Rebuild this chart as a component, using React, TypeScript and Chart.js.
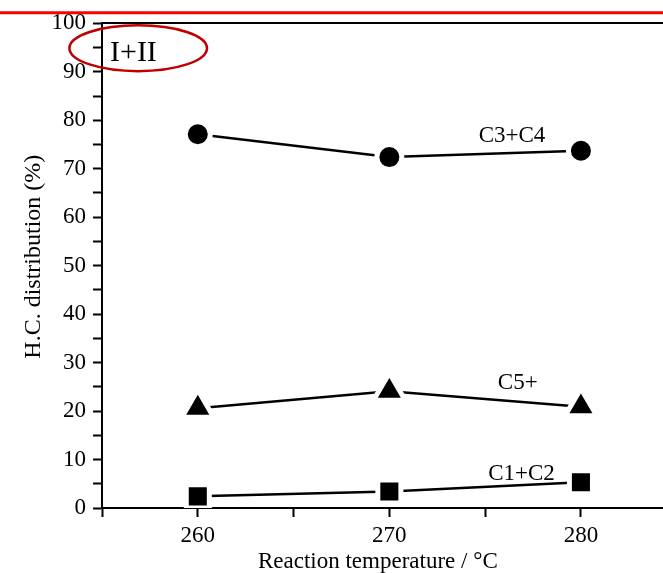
import React, { useEffect, useRef } from "react";
import { Chart, registerables } from "chart.js";

Chart.register(...registerables);

// ---- data ----
const temperatures = [260, 270, 280];
const c1c2 = [2.4, 3.4, 5.3];
const c3c4 = [77.1, 72.4, 73.7];
const c5plus = [20.6, 24.1, 20.9];
const seriesNames = ["C1+C2", "C3+C4", "C5+"];
const seriesLabelX = [276.9, 276.4, 276.7];
const seriesLabelY = [5.8, 75.6, 24.5];
const xTickValues = [260, 270, 280];
const yTickValues = [0, 10, 20, 30, 40, 50, 60, 70, 80, 90, 100];
const panelLabel = "I+II";
const xTitle = "Reaction temperature / °C";
const yTitle = "H.C. distribution (%)";

const FONT = "'Liberation Serif', 'Times New Roman', serif";

const annotationPlugin = {
  id: "annotations",
  afterDraw(chart: any) {
    const { ctx, scales } = chart;
    const x = scales.x;
    const y = scales.y;
    ctx.save();
    // red rule across the top
    ctx.strokeStyle = "#ff0000";
    ctx.lineWidth = 3;
    const ry = y.getPixelForValue(102.2);
    ctx.beginPath();
    ctx.moveTo(0, ry);
    ctx.lineTo(chart.width, ry);
    ctx.stroke();
    // series labels
    ctx.fillStyle = "#000";
    ctx.textAlign = "center";
    ctx.textBaseline = "alphabetic";
    ctx.font = `23px ${FONT}`;
    seriesNames.forEach((n, i) => {
      ctx.fillText(n, x.getPixelForValue(seriesLabelX[i]), y.getPixelForValue(seriesLabelY[i]));
    });
    // panel label
    ctx.font = `30px ${FONT}`;
    ctx.fillText(panelLabel, x.getPixelForValue(256.64), y.getPixelForValue(92.2));
    // ellipse around panel label
    const cx = x.getPixelForValue(256.89);
    const cy = y.getPixelForValue(94.86);
    const rx = x.getPixelForValue(256.89 + 3.59) - cx;
    const rv = cy - y.getPixelForValue(94.86 + 4.73);
    ctx.strokeStyle = "#c00000";
    ctx.lineWidth = 2.5;
    ctx.beginPath();
    ctx.ellipse(cx, cy, rx, rv, 0, 0, Math.PI * 2);
    ctx.stroke();
    ctx.restore();
  },
};

function makeSet(label: string, values: number[], style: string, radius: number) {
  return {
    label,
    data: temperatures.map((t, i) => ({ x: t, y: values[i] })),
    borderColor: "#000",
    borderWidth: 2.5,
    showLine: true,
    tension: 0,
    fill: false,
    pointStyle: style,
    pointRadius: radius,
    pointHoverRadius: radius,
    pointBackgroundColor: "#000",
    pointBorderColor: "#fff",
    pointBorderWidth: 5,
    pointHoverBorderWidth: 5,
  };
}

export default function App() {
  const ref = useRef<HTMLCanvasElement | null>(null);
  useEffect(() => {
    if (!ref.current) return;
    const tickFont = { family: FONT, size: 23 };
    const chart = new Chart(ref.current, {
      type: "line",
      data: {
        datasets: [
          makeSet(seriesNames[0], c1c2, "rect", 16.3),
          makeSet(seriesNames[1], c3c4, "circle", 12.5),
          makeSet(seriesNames[2], c5plus, "triangle", 18.3),
        ] as any,
      },
      options: {
        responsive: false,
        animation: false,
        devicePixelRatio: 1,
        layout: { padding: 0 },
        plugins: { legend: { display: false }, tooltip: { enabled: false } },
        events: [],
        scales: {
          x: {
            type: "linear",
            position: "bottom",
            z: 1,
            min: 255,
            max: 285,
            afterFit: (s: any) => {
              s.height = 65;
            },
            border: { display: true, color: "#000", width: 2 },
            grid: {
              display: true,
              drawOnChartArea: false,
              drawTicks: true,
              tickLength: 9,
              tickWidth: 2,
              tickColor: "#000",
              color: "#000",
            },
            ticks: {
              stepSize: 5,
              autoSkip: false,
              maxRotation: 0,
              padding: 5,
              color: "#000",
              font: tickFont,
              callback: (v: any) => (xTickValues.includes(Number(v)) ? String(v) : ""),
            },
            title: {
              display: true,
              text: xTitle + "    ",
              color: "#000",
              font: { family: FONT, size: 23, lineHeight: 1 },
              padding: { top: 0, bottom: 0 },
            },
          },
          y: {
            type: "linear",
            position: "left",
            z: 1,
            min: 0,
            max: 100,
            afterFit: (s: any) => {
              s.width = 102;
            },
            border: { display: true, color: "#000", width: 2 },
            grid: {
              display: true,
              drawOnChartArea: false,
              drawTicks: true,
              tickLength: 9,
              tickWidth: 2,
              tickColor: "#000",
              color: "#000",
            },
            ticks: {
              stepSize: 5,
              autoSkip: false,
              padding: 7,
              color: "#000",
              font: tickFont,
              callback: (v: any) => (yTickValues.includes(Number(v)) ? String(v) : ""),
            },
            title: {
              display: true,
              text: "   " + yTitle,
              color: "#000",
              font: { family: FONT, size: 24, lineHeight: 1 },
              padding: { top: 22, bottom: 0 },
            },
          },
          x2: {
            type: "linear",
            position: "top",
            min: 255,
            max: 285,
            afterFit: (s: any) => {
              s.height = 22;
            },
            border: { display: true, color: "#000", width: 2 },
            grid: { display: false },
            ticks: { display: false },
          },
          y2: {
            type: "linear",
            position: "right",
            min: 0,
            max: 100,
            afterFit: (s: any) => {
              s.width = 22;
            },
            border: { display: true, color: "#000", width: 2 },
            grid: { display: false },
            ticks: { display: false },
          },
        } as any,
      },
      plugins: [annotationPlugin],
    });
    return () => chart.destroy();
  }, []);

  return (
    <div
      style={{
        position: "fixed",
        left: 0,
        top: 0,
        width: 663,
        height: 573,
        overflow: "hidden",
        background: "#fff",
      }}
    >
      <canvas ref={ref} width={700} height={573} style={{ display: "block" }} />
    </div>
  );
}
